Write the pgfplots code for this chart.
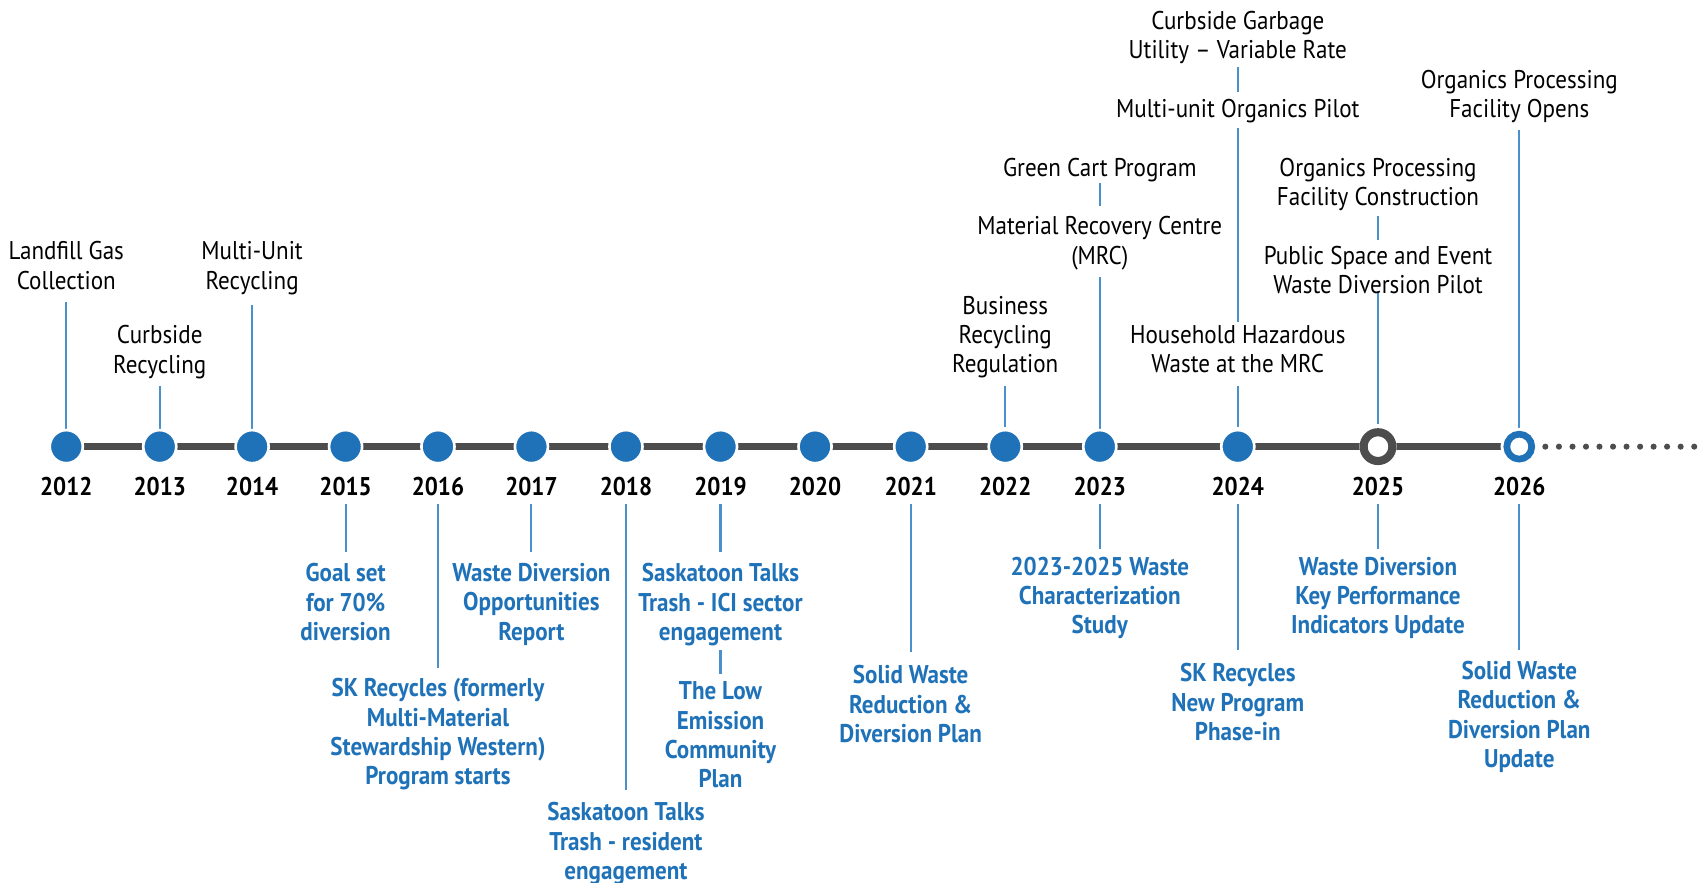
\documentclass[border=0pt]{standalone}
\usepackage{fontspec}
\setmainfont{PT Sans}[FakeStretch=0.9]
\usepackage{pgfplots}
\pgfplotsset{compat=1.18}
\definecolor{tblue}{RGB}{31,114,184}
\definecolor{cblue}{RGB}{74,144,204}
\definecolor{lgray}{RGB}{77,77,77}
\begin{document}
\begin{tikzpicture}[
  top/.style={anchor=north, align=center, inner sep=0pt, text=black, font=\fontsize{10.7}{12.25}\selectfont},
  bot/.style={anchor=north, align=center, inner sep=0pt, text=tblue, font=\fontsize{10.7}{12.25}\selectfont\bfseries},
  yr/.style={anchor=center, inner sep=0pt, font=\fontsize{10.7}{12.25}\selectfont\bfseries}]
\begin{axis}[name=ax, scale only axis, width=25cm, height=12.946cm,
  xmin=0, xmax=1568, ymin=0, ymax=812, y dir=reverse,
  hide axis, clip=false, unbounded coords=jump]
% connectors
\addplot[cblue, line width=0.85pt] coordinates {
  (61,278)(61,395)(61,nan)
  (147,355)(147,395)(147,nan)
  (232,281)(232,395)(232,nan)
  (925,355)(925,393)(925,nan)
  (1012,168)(1012,190)(1012,nan)
  (1012,255)(1012,395)(1012,nan)
  (1139,62)(1139,85)(1139,nan)
  (1139,118)(1139,296)(1139,nan)
  (1139,355)(1139,393)(1139,nan)
  (1268,199)(1268,221)(1268,nan)
  (1268,268)(1268,390)(1268,nan)
  (1398,120)(1398,395)(1398,nan)
  (318,464)(318,508)(318,nan)
  (403,464)(403,615)(403,nan)
  (489,464)(489,508)(489,nan)
  (576,464)(576,727)(576,nan)
  (663,464)(663,508)(663,nan)
  (663,598)(663,620)(663,nan)
  (838,464)(838,600)(838,nan)
  (1012,464)(1012,505)(1012,nan)
  (1139,464)(1139,598)(1139,nan)
  (1268,464)(1268,505)(1268,nan)
  (1398,464)(1398,598)
};
% timeline
\addplot[lgray, line width=3pt] coordinates {(61,411)(1398,411)};
\addplot[only marks, mark=*, mark size=1.05pt, lgray] coordinates {
  (1422,411)(1434.5,411)(1447,411)(1459.4,411)(1471.8,411)(1484.3,411)
  (1496.7,411)(1509.2,411)(1521.6,411)(1534,411)(1546.5,411)(1559,411)};
\addplot[only marks, mark=*, mark size=6.9pt, mark options={fill=tblue, draw=white, line width=1.1pt}] coordinates {
  (61,411)(147,411)(232,411)(318,411)(403,411)(489,411)(576,411)(663,411)
  (750,411)(838,411)(925,411)(1012,411)(1139,411)};
\addplot[only marks, mark=*, mark size=7.3pt, mark options={fill=white, draw=white, line width=1pt}] coordinates {(1268,411)(1398,411)};
\addplot[only marks, mark=*, mark size=6.0pt, mark options={fill=white, draw=lgray, line width=3.4pt}] coordinates {(1268,411)};
\addplot[only marks, mark=*, mark size=5.2pt, mark options={fill=white, draw=tblue, line width=2.8pt}] coordinates {(1398,411)};
% years
\node[yr] at (axis cs:61,448) {2012};
\node[yr] at (axis cs:147,448) {2013};
\node[yr] at (axis cs:232,448) {2014};
\node[yr] at (axis cs:318,448) {2015};
\node[yr] at (axis cs:403,448) {2016};
\node[yr] at (axis cs:489,448) {2017};
\node[yr] at (axis cs:576,448) {2018};
\node[yr] at (axis cs:663,448) {2019};
\node[yr] at (axis cs:750,448) {2020};
\node[yr] at (axis cs:838,448) {2021};
\node[yr] at (axis cs:925,448) {2022};
\node[yr] at (axis cs:1012,448) {2023};
\node[yr] at (axis cs:1139,448) {2024};
\node[yr] at (axis cs:1268,448) {2025};
\node[yr] at (axis cs:1398,448) {2026};
% events above
\node[top] at (axis cs:61,222) {Landfill Gas\\Collection};
\node[top] at (axis cs:147,299) {Curbside\\Recycling};
\node[top] at (axis cs:232,222) {Multi-Unit\\Recycling};
\node[top] at (axis cs:925,272) {Business\\Recycling\\Regulation};
\node[top] at (axis cs:1012,145) {Green Cart Program};
\node[top] at (axis cs:1012,199) {Material Recovery Centre\\(MRC)};
\node[top] at (axis cs:1139,10) {Curbside Garbage\\Utility -- Variable Rate};
\node[top] at (axis cs:1139,91) {Multi-unit Organics Pilot};
\node[top] at (axis cs:1139,299) {Household Hazardous\\Waste at the MRC};
\node[top] at (axis cs:1268,145) {Organics Processing\\Facility Construction};
\node[top] at (axis cs:1268,226) {Public Space and Event\\Waste Diversion Pilot};
\node[top] at (axis cs:1398,64) {Organics Processing\\Facility Opens};
% events below
\node[bot] at (axis cs:318,518) {Goal set\\for 70\%\\diversion};
\node[bot] at (axis cs:403,624) {SK Recycles (formerly\\Multi-Material\\Stewardship Western)\\Program starts};
\node[bot] at (axis cs:489,518) {Waste Diversion\\Opportunities\\Report};
\node[bot] at (axis cs:576,738) {Saskatoon Talks\\Trash - resident\\engagement};
\node[bot] at (axis cs:663,518) {Saskatoon Talks\\Trash - ICI sector\\engagement};
\node[bot] at (axis cs:663,627) {The Low\\Emission\\Community\\Plan};
\node[bot] at (axis cs:838,612) {Solid Waste\\Reduction \&\\Diversion Plan};
\node[bot] at (axis cs:1012,512) {2023-2025 Waste\\Characterization\\Study};
\node[bot] at (axis cs:1139,610) {SK Recycles\\New Program\\Phase-in};
\node[bot] at (axis cs:1268,512) {Waste Diversion\\Key Performance\\Indicators Update};
\node[bot] at (axis cs:1398,608) {Solid Waste\\Reduction \&\\Diversion Plan\\Update};
\end{axis}
\pgfresetboundingbox
\useasboundingbox (ax.south west) rectangle (ax.north east);
\end{tikzpicture}
\end{document}
